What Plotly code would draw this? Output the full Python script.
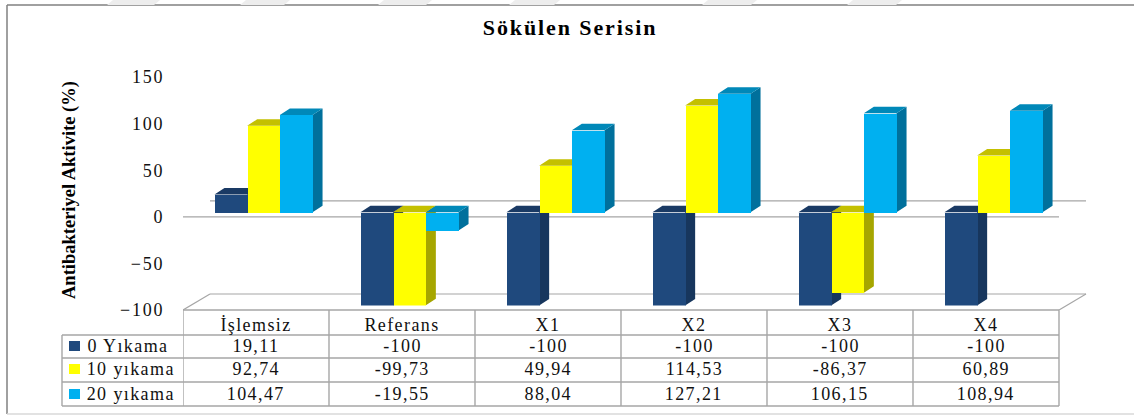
import plotly.graph_objects as go

W, H = 1134, 415

categories = ["İşlemsiz", "Referans", "X1", "X2", "X3", "X4"]
series_names = ["0 Yıkama", "10 yıkama", "20 yıkama"]
wash_0 = [19.11, -100, -100, -100, -100, -100]
wash_10 = [92.74, -99.73, 49.94, 114.53, -86.37, 60.89]
wash_20 = [104.47, -19.55, 88.04, 127.21, 106.15, 108.94]
y_ticks = [150, 100, 50, 0, -50, -100]

front_colors = ["#1F497D", "#FFFF00", "#00B0F0"]
side_colors = ["#17365D", "#A6A600", "#00709C"]
top_colors = ["#1A3A64", "#C4C000", "#0088B8"]

FONT = "Liberation Serif"
GRID = "#A6A6A6"
TEXT = "#111111"

# plot geometry in page pixels
X0, Y_TOP, Y_BOT = 183, 77, 310
COL = 146.0
XMAX = 6.3
PX_Y = (Y_BOT - Y_TOP) / 250.0
BAR_W = 32.7 / COL
BAR_DX, BAR_DY = 10 / COL, 6.5 / PX_Y
WALL_DX, WALL_DY = 27 / COL, 16 / PX_Y
SHIFT_X, SHIFT_Y = 7.5, 4.5
TABLE_L = 62


def py(px):
    return 1 - px / H


def fmt(v):
    return str(int(v)) if v == int(v) else f"{v:.2f}".replace(".", ",")


fig = go.Figure()

for s, values in enumerate([wash_0, wash_10, wash_20]):
    sx, sy, tx, ty, bx = [], [], [], [], []
    for c, v in enumerate(values):
        left = c + 0.5 + (s - 1.5) * BAR_W
        right = left + BAR_W
        bx.append(left + BAR_W / 2)
        sx += [right, right + BAR_DX, right + BAR_DX, right, right, None]
        sy += [0, BAR_DY, v + BAR_DY, v, 0, None]
        t = max(v, 0)
        tx += [left, left + BAR_DX, right + BAR_DX, right, left, None]
        ty += [t, t + BAR_DY, t + BAR_DY, t, t, None]
    z = s * 3
    fig.add_trace(go.Scatter(x=sx, y=sy, mode="lines", fill="toself", fillcolor=side_colors[s],
                             line=dict(width=0), xaxis="x2", yaxis="y2", zorder=z + 1,
                             showlegend=False, hoverinfo="skip"))
    fig.add_trace(go.Scatter(x=tx, y=ty, mode="lines", fill="toself", fillcolor=top_colors[s],
                             line=dict(width=0), xaxis="x2", yaxis="y2", zorder=z + 1,
                             showlegend=False, hoverinfo="skip"))
    fig.add_trace(go.Bar(x=bx, y=values, width=BAR_W, name=series_names[s], marker_color=front_colors[s],
                         marker_line_width=0, xaxis="x2", yaxis="y2", zorder=z + 2, showlegend=False))

shapes = []


def line(x0, y0, x1, y1, xref="x", yref="y", color=GRID, width=1.2):
    shapes.append(dict(type="line", x0=x0, y0=y0, x1=x1, y1=y1, xref=xref, yref=yref,
                       line=dict(color=color, width=width), layer="below"))


# back wall and floor
line(WALL_DX, WALL_DY, 6 + WALL_DX, WALL_DY)
line(0, -100, WALL_DX, -100 + WALL_DY)
line(WALL_DX, -100 + WALL_DY, 6 + WALL_DX, -100 + WALL_DY)
line(6, -100, 6 + WALL_DX, -100 + WALL_DY)
line(0, 0, 6, 0)

# data table grid
rows_px = [310, 335, 358, 382, 406]
table_r = (X0 + 6 * COL) / W
for c in range(7):
    line(c, py(310), c, py(406), yref="paper", width=1.4)
line(TABLE_L / W, py(335), TABLE_L / W, py(406), xref="paper", yref="paper", width=1.4)
line(X0 / W, py(310), table_r, py(310), xref="paper", yref="paper", width=1.4)
for r in rows_px[1:]:
    line(TABLE_L / W, py(r), table_r, py(r), xref="paper", yref="paper", width=1.4)

# chart frame
line(7 / W, py(5), 1, py(5), xref="paper", yref="paper", color="#808080", width=1.5)
line(7 / W, py(5), 7 / W, py(414), xref="paper", yref="paper", color="#808080", width=1.5)
line(7 / W, py(414), 1, py(414), xref="paper", yref="paper", color="#D9D9D9", width=1.5)

# faint page watermark above the frame
for a, b in [(107, 160), (240, 290), (378, 432), (509, 560), (702, 757), (847, 902)]:
    shapes.append(dict(type="path", xref="paper", yref="paper", layer="below", line=dict(width=0),
                       fillcolor="#EDEDED",
                       path=f"M {(a + 6) / W} {py(0)} L {b / W} {py(0)} L {(b - 6) / W} {py(5)} L {a / W} {py(5)} Z"))


def label(text, x, y, xref="paper", size=18, color=TEXT, xanchor="center", angle=0):
    return dict(text=text, x=x, y=y, xref=xref, yref="paper", showarrow=False, xanchor=xanchor, yanchor="middle",
                textangle=angle, font=dict(family=FONT, size=size, color=color))


annotations = [
    label("<b>Sökülen Serisin</b>", 570 / W, py(28), size=22, color="#000000"),
    label("<b>Antibakteriyel Aktivite (%)</b>", 70 / W, py(190), size=18.5, color="#000000", angle=-90),
]

centers_px = [346, 369, 394]
for c, name in enumerate(categories):
    annotations.append(label(name, c + 0.5, py(325), xref="x"))
for s, values in enumerate([wash_0, wash_10, wash_20]):
    annotations.append(label(series_names[s], 91 / W, py(centers_px[s]), xanchor="left"))
    shapes.append(dict(type="rect", x0=69 / W, x1=80 / W, y0=py(centers_px[s] - 5), y1=py(centers_px[s] + 5),
                       xref="paper", yref="paper", line=dict(width=0), fillcolor=front_colors[s]))
    for c, v in enumerate(values):
        annotations.append(label(fmt(v), c + 0.5, py(centers_px[s]), xref="x"))

x_domain = [X0 / W, (X0 + XMAX * COL) / W]
y_domain = [py(Y_BOT), py(Y_TOP)]

fig.update_layout(
    width=W, height=H, margin=dict(l=0, r=0, t=0, b=0),
    paper_bgcolor="white", plot_bgcolor="rgba(0,0,0,0)", barmode="overlay", bargap=0,
    shapes=shapes, annotations=annotations,
    xaxis=dict(domain=x_domain, range=[0, XMAX], visible=False, fixedrange=True, automargin=False),
    yaxis=dict(domain=y_domain, range=[-100, 150], anchor="x", tickvals=y_ticks, ticks="", automargin=False,
               showgrid=False, zeroline=False, showline=True, linecolor=GRID, linewidth=1.2,
               tickfont=dict(family=FONT, size=18, color=TEXT), ticklabelstandoff=14, fixedrange=True),
    # bars stand a little behind the front plane, so they get their own shifted axes
    xaxis2=dict(domain=[x_domain[0] + SHIFT_X / W, x_domain[1] + SHIFT_X / W], range=[0, XMAX], automargin=False,
                visible=False, anchor="y2", fixedrange=True),
    yaxis2=dict(domain=[y_domain[0] + SHIFT_Y / H, y_domain[1] + SHIFT_Y / H], range=[-100, 150], automargin=False,
                visible=False, anchor="x2", fixedrange=True),
)

# the reference text is set wide, plotly has no letter spacing option
spacing = """
document.body.style.margin = '0';
document.querySelectorAll('.annotation-text').forEach(t => {
  const s = t.textContent;
  if (s.startsWith('Sökülen')) t.style.letterSpacing = '1.9px';
  else if (!s.startsWith('Antibakteriyel')) t.style.letterSpacing = '1.4px';
});
document.querySelectorAll('.ytick text').forEach(t => { t.style.letterSpacing = '1.8px'; });
"""
fig.write_html("out.html", config=dict(displayModeBar=False), post_script=spacing)
